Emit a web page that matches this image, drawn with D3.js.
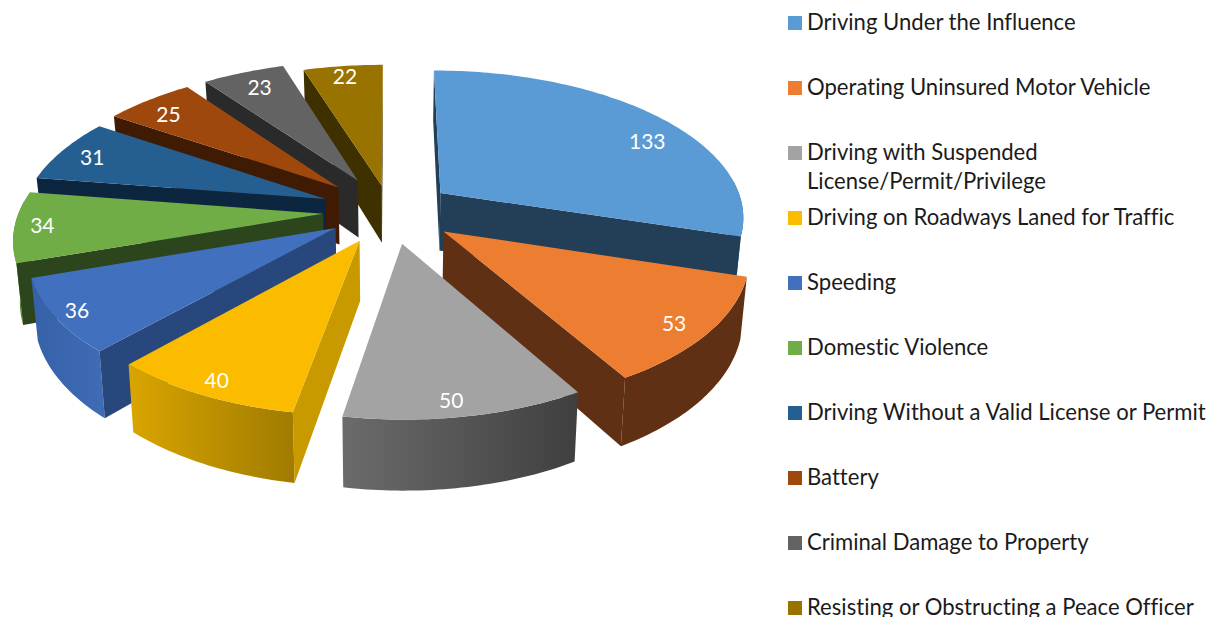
<!DOCTYPE html>
<html><head><meta charset="utf-8">
<style>html,body{margin:0;padding:0;background:#fff;overflow:hidden}svg{display:block}text{font-family:Lato,"Open Sans",sans-serif;font-variant-ligatures:none}</style>
<script src="https://cdnjs.cloudflare.com/ajax/libs/d3/7.8.5/d3.min.js"></script>
</head><body><div id="c"></div>
<script>
const categories = ["Driving Under the Influence","Operating Uninsured Motor Vehicle","Driving with Suspended License/Permit/Privilege","Driving on Roadways Laned for Traffic","Speeding","Domestic Violence","Driving Without a Valid License or Permit","Battery","Criminal Damage to Property","Resisting or Obstructing a Peace Officer"];
const values = [133,53,50,40,36,34,31,25,23,22];
const topColors = ["#5b9bd5","#ed7d31","#a3a3a3","#fbbc00","#4170bf","#70ad47","#255e91","#9e480e","#636363","#997300"];
const faceColors = ["#233f57","#5f3014","#555555","#c99a00","#27477d","#2c451c","#0d2640","#3f1b03","#2a2a2a","#3f3000"];
const wallLight = ["#3a6a94","#5f3014","#6b6b6b","#d9a500","#3561a8","#5d9139","#1e4c76","#7d390a","#4f4f4f","#7a5c00"];
const wallDark = ["#3a6a94","#5f3014","#3f3f3f","#a07b00","#3f6cb5","#4c7a2f","#1e4c76","#7d390a","#4f4f4f","#7a5c00"];
const explosion = [.21,.22,.22,.22,.21,.22,.23,.24,.24,.18];
const sliceRadius = [1,.97,.96,.96,.98,1,1,1,1,1];
const drawOrder = [9,8,7,6,5,4,3,0,1,2];
const labelTurn = [.585,.534,.538,.5,.486,.5,.46,.4,.5,.48];
const labelRadius = [.835,.867,.878,.881,.911,.911,.875,.85,.842,.899];

const W=1214,H=617;
const cam={cx:390,cy:211,rx:304,ry:146,k:.15,height:58.5,taper:.982};
const svg=d3.select("#c").append("svg").attr("width",W).attr("height",H);
const defs=svg.append("defs");
const pie=d3.pie().sort(null).value(d=>d)(values);

const sx=d3.scaleLinear().domain([0,1]).range([cam.cx,cam.cx+cam.rx]);
const sy=d3.scaleLinear().domain([0,1]).range([cam.cy,cam.cy-cam.ry]);
function project(X,Y,down){
  const s=1/(1+cam.k*Y);
  const x=sx(X*s), y=sy(Y*s);
  if(!down) return [x,y];
  return [cam.cx+(x-cam.cx)*cam.taper, y+cam.height*s];
}
const line=d3.line();
const STEP=Math.PI/180;
function arcAngles(a,b){const n=Math.max(2,Math.ceil((b-a)/STEP));return d3.range(n+1).map(i=>a+(b-a)*i/n);}

const slices=pie.map((p,i)=>{
  const mid=(p.startAngle+p.endAngle)/2;
  const ox=explosion[i]*Math.sin(mid), oy=explosion[i]*Math.cos(mid);
  const pt=(t,r,down)=>project(ox+r*Math.sin(t),oy+r*Math.cos(t),down);
  return {i,p,mid,pt,R:sliceRadius[i]};
});

const g=svg.append("g");
drawOrder.forEach(i=>{
  const {p,pt,R}=slices[i];
  const a0=p.startAngle,a1=p.endAngle;
  const sg=g.append("g").attr("class","slice");
  const topPts=[pt(a0,0)].concat(arcAngles(a0,a1).map(t=>pt(t,R)));
  const topSign=Math.sign(d3.polygonArea(topPts));
  const lo=Math.max(a0,85*STEP),hi=Math.min(a1,275*STEP);
  if(hi>lo){
    const arc=arcAngles(lo,hi);
    const wall=arc.map(t=>pt(t,R)).concat(arc.slice().reverse().map(t=>pt(t,R,true)));
    const xs=d3.extent(wall,d=>d[0]);
    const id="w"+i;
    const gr=defs.append("linearGradient").attr("id",id).attr("gradientUnits","userSpaceOnUse")
      .attr("x1",xs[0]).attr("x2",xs[1]).attr("y1",0).attr("y2",0);
    gr.append("stop").attr("offset",0).attr("stop-color",wallLight[i]);
    gr.append("stop").attr("offset",1).attr("stop-color",wallDark[i]);
    sg.append("path").attr("d",line(wall)+"Z").attr("fill",`url(#${id})`);
  }
  [[a0,-1],[a1,1]].forEach(([t,want])=>{
    const q=[pt(t,0),pt(t,R),pt(t,R,true),pt(t,0,true)];
    if(Math.sign(d3.polygonArea(q))===want*topSign)
      sg.append("path").attr("d",line(q)+"Z").attr("fill",faceColors[i]);
  });
  sg.append("path").attr("d",line(topPts)+"Z").attr("fill",topColors[i]);
});

slices.forEach(({i,p,pt})=>{
  const t=p.startAngle+(p.endAngle-p.startAngle)*labelTurn[i];
  const c=pt(t,labelRadius[i]);
  svg.append("text").attr("x",c[0]).attr("y",c[1]).attr("dy",".35em").attr("text-anchor","middle")
    .attr("fill","#fff").attr("font-size",21).text(values[i]);
});

const legendY=d3.scalePoint().domain(categories).range([23,608]);
const legendLines=c=>c==="Driving with Suspended License/Permit/Privilege"?["Driving with Suspended","License/Permit/Privilege"]:[c];
const lg=svg.append("g");
categories.forEach((c,i)=>{
  const y=legendY(c);
  lg.append("rect").attr("x",788).attr("y",y-7).attr("width",14).attr("height",14).attr("fill",topColors[i]);
  legendLines(c).forEach((s,j)=>{
    lg.append("text").attr("x",807).attr("y",y+7+j*29).attr("font-size",22.1).attr("fill","#1b1b1b").text(s);
  });
});
</script></body></html>
